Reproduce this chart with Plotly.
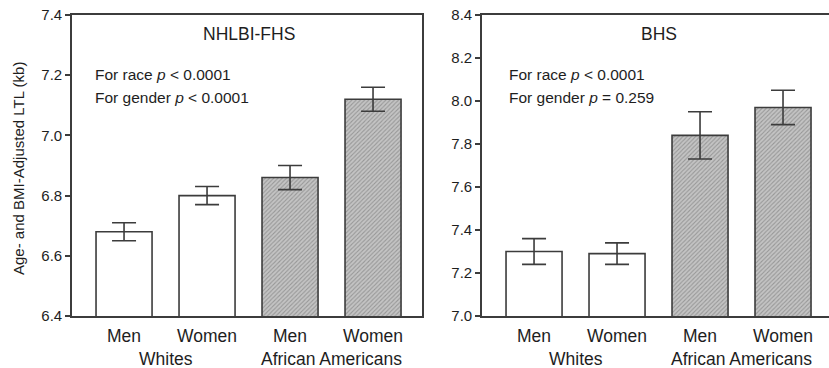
import plotly.graph_objects as go

categories = ["Men", "Women", "Men", "Women"]
groups = ["Whites", "African Americans"]
fhs_values = [6.68, 6.80, 6.86, 7.12]
fhs_err = [0.03, 0.03, 0.04, 0.04]
bhs_values = [7.30, 7.29, 7.84, 7.97]
bhs_err = [0.06, 0.05, 0.11, 0.08]
fhs_ticks = [6.4, 6.6, 6.8, 7.0, 7.2, 7.4]
bhs_ticks = [7.0, 7.2, 7.4, 7.6, 7.8, 8.0, 8.2, 8.4]
panel_titles = ["NHLBI-FHS", "BHS"]
panel_notes = [["For race <i>p</i> < 0.0001", "For gender <i>p</i> < 0.0001"],
               ["For race <i>p</i> < 0.0001", "For gender <i>p</i> = 0.259"]]

FONT = "Liberation Sans, Arial, sans-serif"
LINE = "#3c3c3c"
TXT = "#1e1e1e"

fig = go.Figure()
xs = [0, 1, 2, 3]

def add_panel(vals, errs, xa, ya):
    fig.add_trace(go.Bar(
        x=xs[:2], y=vals[:2],
        marker=dict(color="white", line=dict(color=LINE, width=1.6)),
        width=0.675, xaxis=xa, yaxis=ya, showlegend=False,
        error_y=dict(type="data", array=errs[:2], color=LINE, thickness=1.6, width=12),
    ))
    fig.add_trace(go.Bar(
        x=xs[2:], y=vals[2:],
        marker=dict(color="#b0b0b0", line=dict(color=LINE, width=1.6),
                    pattern=dict(shape="/", fgcolor="#6a6a6a", bgcolor="#c4c4c4", size=3, solidity=0.35)),
        width=0.675, xaxis=xa, yaxis=ya, showlegend=False,
        error_y=dict(type="data", array=errs[2:], color=LINE, thickness=1.6, width=12),
    ))

add_panel(fhs_values, fhs_err, "x", "y")
add_panel(bhs_values, bhs_err, "x2", "y2")

xcommon = dict(tickvals=xs, showticklabels=False, showline=True, mirror=True,
               linecolor=LINE, linewidth=1.6, ticks="", showgrid=False, zeroline=False,
               automargin=False)
ycommon = dict(showline=True, linecolor=LINE, linewidth=1.6, ticks="outside",
               ticklen=5, tickcolor=LINE, tickwidth=1.6, showgrid=False, zeroline=False,
               tickfont=dict(family=FONT, size=15, color=TXT), tickformat=".1f",
               automargin=False)

top = 1 - 15 / 368
bot = 1 - 316 / 368
fig.update_layout(
    width=829, height=368, margin=dict(l=0, r=0, t=0, b=0),
    plot_bgcolor="white", paper_bgcolor="white", barmode="overlay",
    xaxis=dict(domain=[72 / 829, 422 / 829], range=[-0.627, 3.59], anchor="y", **xcommon),
    xaxis2=dict(domain=[482 / 829, 1.0], range=[-0.627, 3.554], anchor="y2", **xcommon),
    yaxis=dict(domain=[bot, top], range=[6.4, 7.4], tickvals=fhs_ticks, anchor="x", mirror=True, **ycommon),
    yaxis2=dict(domain=[bot, top], range=[7.0, 8.4], tickvals=bhs_ticks, anchor="x2", mirror=False, **ycommon),
)

def A(**kw):
    d = dict(showarrow=False, yanchor="middle", xanchor="center")
    d.update(kw)
    return d

ann = []
for i, (xr, yr) in enumerate([("x", "y"), ("x2", "y2")]):
    ann.append(A(x=1.5, y=1 - 34 / 368, xref=xr, yref="paper", text=panel_titles[i],
                 font=dict(family=FONT, size=17.5, color=TXT)))
    nx = -0.37 if i == 0 else -0.32
    ann.append(A(x=nx, y=1 - 75 / 368, xref=xr, yref="paper", text=panel_notes[i][0], xanchor="left",
                 font=dict(family=FONT, size=15.5, color=TXT)))
    ann.append(A(x=nx, y=1 - 97 / 368, xref=xr, yref="paper", text=panel_notes[i][1], xanchor="left",
                 font=dict(family=FONT, size=15.5, color=TXT)))
    for j, c in enumerate(categories):
        ann.append(A(x=xs[j], y=1 - 336 / 368, xref=xr, yref="paper", text=c,
                     font=dict(family=FONT, size=17.5, color=TXT)))
    ann.append(A(x=0.5, y=1 - 359 / 368, xref=xr, yref="paper", text=groups[0],
                 font=dict(family=FONT, size=17.5, color=TXT)))
    ann.append(A(x=2.5, y=1 - 359 / 368, xref=xr, yref="paper", text=groups[1],
                 font=dict(family=FONT, size=17.5, color=TXT)))
ann.append(A(x=18 / 829, y=1 - 169 / 368, xref="paper", yref="paper",
             text="Age- and BMI-Adjusted LTL (kb)", textangle=-90,
             font=dict(family=FONT, size=15, color=TXT)))
fig.update_layout(annotations=ann)

fig.write_html("out.html", config={"displayModeBar": False},
               post_script="document.body.style.margin='0';document.body.style.overflow='hidden';")
